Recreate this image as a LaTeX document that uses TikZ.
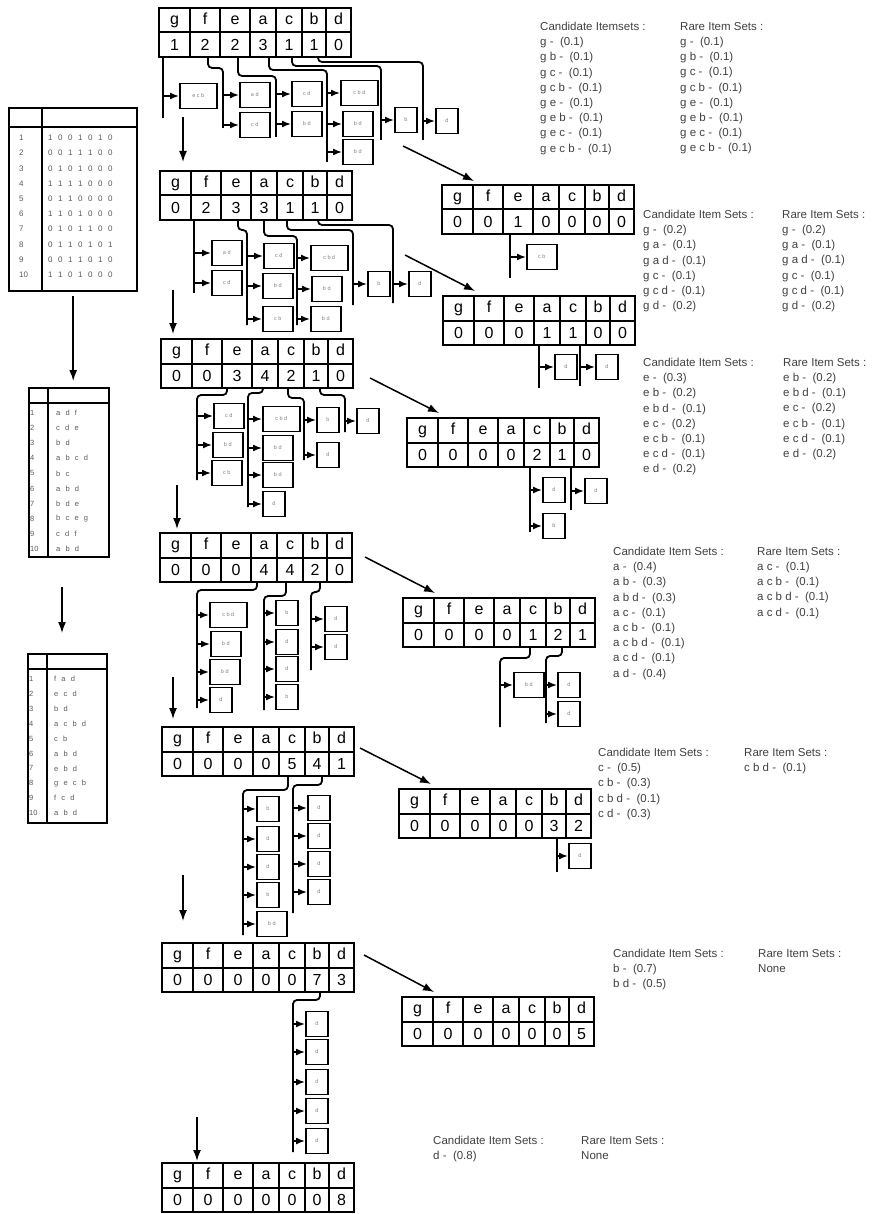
\documentclass[tikz,border=0pt]{standalone}
\usepackage{fontspec}
\setmainfont{Liberation Sans}
\newfontfamily\spacedfont[WordSpace=2.5]{Liberation Sans}
\usetikzlibrary{arrows.meta}

% counts of one itemset table
\def\setvals#1,#2,#3,#4,#5,#6,#7\relax{\def\vA{#1}\def\vB{#2}\def\vC{#3}\def\vD{#4}\def\vE{#5}\def\vF{#6}\def\vG{#7}}
\newcommand{\itemtable}[4]{% name, left, top, counts
  \setvals#4\relax
  \foreach \lt/\xc/\cwid/\cnt [count=\i] in {g/15.5/31/\vA,f/46/30/\vB,e/76/30/\vC,a/104/26/\vD,c/130/26/\vE,b/155/24/\vF,d/179.5/25/\vG}{
    \node[hcell,minimum width=\cwid pt] (#1h\i) at (#2+\xc,#3+12.25) {\lt};
    \node[vcell,minimum width=\cwid pt] (#1v\i) at (#2+\xc,#3+36.75) {\cnt};
  }%
}
\newcommand{\trunk}[4]{\draw[stem] ([xshift=#2pt]#1.south) -- ++(0,#3) coordinate (#4);}
\newcommand{\branch}[6]{\draw[stem] ([xshift=#2pt]#1.south) |- (#4,#3) -- (#4,#5) coordinate (#6);}
\newcommand{\leaf}[6][]{%
  \node[itm,#1,anchor=west] (#2) at (#4,#5) {#6};
  \draw[tip] (#3 |- #2) -- (#2);}

\begin{document}
\begin{tikzpicture}[x=1pt,y=-1pt,
  vcell/.style={draw, line width=2pt, minimum height=24.5pt, inner sep=0pt, font=\fontsize{16}{16}\selectfont},
  hcell/.style={vcell, text height=11.5pt, text depth=3.5pt},
  itm/.style={draw, line width=1.6pt, minimum height=25pt, minimum width=30pt, inner sep=0pt, text=gray, font=\fontsize{5.5}{6}\selectfont},
  one/.style={minimum width=22pt},
  three/.style={minimum width=37pt},
  stem/.style={line width=1.8pt, rounded corners=4pt},
  tip/.style={line width=1.5pt, -{Latex[length=9pt,width=7pt]}},
  down/.style={line width=1.5pt, -{Latex[length=11pt,width=8pt]}},
  tab/.style={draw, line width=2.4pt, anchor=north west, inner sep=0pt},
  tabline/.style={line width=2.4pt},
  idx/.style={anchor=west, inner sep=0pt, text=black!65, font=\fontsize{7.5}{8}\selectfont},
  bits/.style={anchor=west, inner sep=0pt, text=black!65, font=\fontsize{7.5}{8}\spacedfont},
  lst/.style={anchor=north west, align=left, inner sep=0pt, text=black!75, font=\fontsize{11.5}{15.2}\selectfont}
]
\useasboundingbox (0,0) rectangle (876,1214);

% transaction tables
\node[tab, minimum width=128pt, minimum height=183pt] (tab1) at (8,107) {};
\draw[tabline] (8,127) -- (136,127) (42,107) -- (42,290);
\foreach \b [count=\i] in {1 0 0 1 0 1 0, 0 0 1 1 1 0 0, 0 1 0 1 0 0 0, 1 1 1 1 0 0 0, 0 1 1 0 0 0 0,
  1 1 0 1 0 0 0, 0 1 0 1 1 0 0, 0 1 1 0 1 0 1, 0 0 1 1 0 1 0, 1 1 0 1 0 0 0}{
  \node[idx,font=\fontsize{8}{8}\selectfont] (tA-\i) at (19,{138+(\i-1)*15.2}) {\i};
  \node[bits,font=\fontsize{8}{8}\spacedfont] (rA-\i) at (48,{138+(\i-1)*15.2}) {\b};
}
\node[tab, minimum width=80pt, minimum height=169pt] (tab2) at (28,387) {};
\draw[tabline] (28,403) -- (108,403) (48,387) -- (48,556);
\foreach \b [count=\i] in {a d f, c d e, b d, a b c d, b c, a b d, b d e, b c e g, c d f, a b d}{
  \node[idx] (tB-\i) at (30,{413+(\i-1)*15.1}) {\i};
  \node[bits] (rB-\i) at (56,{413+(\i-1)*15.1}) {\b};
}
\node[tab, minimum width=79pt, minimum height=169pt] (tab3) at (27,653) {};
\draw[tabline] (27,669) -- (106,669) (47,653) -- (47,822);
\foreach \b [count=\i] in {f a d, e c d, b d, a c b d, c b, a b d, e b d, g e c b, f c d, a b d}{
  \node[idx] (tC-\i) at (29,{679+(\i-1)*14.9}) {\i};
  \node[bits] (rC-\i) at (54,{679+(\i-1)*14.9}) {\b};
}
\draw[down, shorten <=4pt, shorten >=6pt] (tab1.south) -- (tab1.south |- tab2.north);
\coordinate (l2) at (62,587);
\draw[down, shorten >=20pt] (l2) -- (l2 |- tab3.north);

% main column
\itemtable{t1}{159}{8}{1,2,2,3,1,1,0}
\itemtable{t2}{160}{171}{0,2,3,3,1,1,0}
\itemtable{t3}{161}{339}{0,0,3,4,2,1,0}
\itemtable{t4}{160}{533}{0,0,0,4,4,2,0}
\itemtable{t5}{162}{727}{0,0,0,0,5,4,1}
\itemtable{t6}{162}{943}{0,0,0,0,0,7,3}
\itemtable{t7}{162}{1163}{0,0,0,0,0,0,8}

% conditional tables
\itemtable{r1}{442}{185}{0,0,1,0,0,0,0}
\itemtable{r2}{443}{296}{0,0,0,1,1,0,0}
\itemtable{r3}{407}{418}{0,0,0,0,2,1,0}
\itemtable{r4}{403}{598}{0,0,0,0,1,2,1}
\itemtable{r5}{399}{789}{0,0,0,0,0,3,2}
\itemtable{r6}{402}{997}{0,0,0,0,0,0,5}

% step 1
\trunk{t1v1}{-11.5}{60}{s1g}
\branch{t1v2}{3}{68}{223}{128}{s1f}
\branch{t1v3}{3}{76}{276}{137}{s1e}
\branch{t1v4}{6}{70}{327}{162}{s1a}
\branch{t1v5}{3}{66}{381}{140}{s1c}
\branch{t1v6}{4}{62}{423}{140}{s1b}
\leaf[three]{l1a}{s1g}{179}{96}{e c b}
\leaf{l1b}{s1f}{239}{95}{a d}
\leaf{l1c}{s1f}{239}{125}{c d}
\leaf{l1d}{s1e}{291}{94}{c d}
\leaf{l1e}{s1e}{291}{124}{b d}
\leaf[three]{l1f}{s1a}{340}{93}{c b d}
\leaf{l1g}{s1a}{342}{124}{b d}
\leaf{l1h}{s1a}{342}{152}{b d}
\leaf[one]{l1i}{s1c}{394}{120}{b}
\leaf[one]{l1j}{s1b}{435}{121}{d}

% step 2
\trunk{t2v2}{-12}{72}{s2f}
\branch{t2v3}{2}{230}{247}{325}{s2e}
\branch{t2v4}{0}{236}{297}{325}{s2a}
\branch{t2v5}{-3}{230}{353}{305}{s2c}
\branch{t2v6}{3}{225}{393}{303}{s2b}
\leaf{l2a}{s2f}{211}{253}{a d}
\leaf{l2b}{s2f}{211}{283}{c d}
\leaf{l2c}{s2e}{263}{256}{c d}
\leaf{l2d}{s2e}{262}{286}{b d}
\leaf{l2e}{s2e}{262}{319}{c b}
\leaf[three]{l2f}{s2a}{310}{258}{c b d}
\leaf{l2g}{s2a}{311}{289}{b d}
\leaf{l2h}{s2a}{310}{319}{b d}
\leaf[one]{l2i}{s2c}{367}{284}{b}
\leaf[one]{l2j}{s2b}{408}{284}{d}

% step 3
\branch{t3v3}{-10}{395}{197}{480}{s3e}
\branch{t3v4}{-2}{393}{248}{507}{s3a}
\branch{t3v5}{-3}{398}{304}{460}{s3c}
\branch{t3v6}{4}{395}{345}{432}{s3b}
\leaf{l3a}{s3e}{213}{416}{c d}
\leaf{l3b}{s3e}{212}{445}{b d}
\leaf{l3c}{s3e}{211}{473}{c b}
\leaf[three]{l3d}{s3a}{262}{419}{c b d}
\leaf{l3e}{s3a}{262}{448}{b d}
\leaf{l3f}{s3a}{262}{475}{b d}
\leaf[one]{l3g}{s3a}{262}{504}{d}
\leaf[one]{l3h}{s3c}{316}{420}{b}
\leaf[one]{l3i}{s3c}{316}{455}{d}
\leaf[one]{l3j}{s3b}{356}{421}{d}

% step 4
\branch{t4v4}{-7}{590}{197}{708}{s4a}
\branch{t4v5}{-4}{596}{264}{710}{s4c}
\branch{t4v6}{5}{592}{311}{670}{s4b}
\leaf[three]{l4a}{s4a}{209}{615}{c b d}
\leaf{l4b}{s4a}{210}{644}{b d}
\leaf{l4c}{s4a}{209}{672}{b d}
\leaf[one]{l4d}{s4a}{209}{700}{d}
\leaf[one]{l4e}{s4c}{275}{613}{b}
\leaf[one]{l4f}{s4c}{275}{642}{d}
\leaf[one]{l4g}{s4c}{275}{669}{d}
\leaf[one]{l4h}{s4c}{275}{697}{b}
\leaf[one]{l4i}{s4b}{324}{619}{d}
\leaf[one]{l4j}{s4b}{324}{647}{d}

% step 5
\branch{t5v5}{-4}{790}{243}{935}{s5c}
\branch{t5v6}{5}{785}{293}{913}{s5b}
\leaf[one]{l5a}{s5c}{256}{809}{b}
\leaf[one]{l5b}{s5c}{256}{839}{d}
\leaf[one]{l5c}{s5c}{256}{867}{d}
\leaf[one]{l5d}{s5c}{256}{895}{b}
\leaf{l5e}{s5c}{256}{924}{b d}
\leaf[one]{l5f}{s5b}{307}{808}{d}
\leaf[one]{l5g}{s5b}{307}{836}{d}
\leaf[one]{l5h}{s5b}{307}{864}{d}
\leaf[one]{l5i}{s5b}{307}{892}{d}

% step 6
\branch{t6v6}{3}{1000}{293}{1152}{s6b}
\foreach \yy [count=\k] in {1024,1052,1082,1111,1141}{
  \leaf[one]{l6-\k}{s6b}{305}{\yy}{d}
}

% conditional branches
\trunk{r1v3}{-8}{43}{q1e}
\leaf{k1a}{q1e}{526}{257}{c b}
\trunk{r2v4}{-8}{42}{q2a}
\trunk{r2v5}{7}{40}{q2c}
\leaf[one]{k2a}{q2a}{554}{367}{d}
\leaf[one]{k2b}{q2c}{595}{367}{d}
\trunk{r3v5}{-7}{64}{q3c}
\trunk{r3v6}{9}{42}{q3b}
\leaf[one]{k3a}{q3c}{542}{490}{d}
\leaf[one]{k3b}{q3c}{542}{526}{b}
\leaf[one]{k3c}{q3b}{584}{491}{d}
\branch{r4v5}{-3}{658}{500}{727}{q4c}
\branch{r4v6}{4}{656}{546}{723}{q4b}
\leaf{k4a}{q4c}{513}{685}{b d}
\leaf[one]{k4b}{q4b}{557}{685}{d}
\leaf[one]{k4c}{q4b}{557}{714}{d}
\trunk{r5v6}{3}{33}{q5b}
\leaf[one]{k5a}{q5b}{568}{856}{d}

% arrows down the main column
\coordinate (m1) at (183,117);
\coordinate (m2) at (173,290);
\coordinate (m3) at (177,485);
\coordinate (m4) at (173,677);
\coordinate (m5) at (183,875);
\coordinate (m6) at (197,1117);
\draw[down, shorten >=8pt] (m1) -- (m1 |- t2h1.north);
\draw[down, shorten >=4pt] (m2) -- (m2 |- t3h1.north);
\draw[down, shorten >=3pt] (m3) -- (m3 |- t4h1.north);
\draw[down, shorten >=7pt] (m4) -- (m4 |- t5h1.north);
\draw[down, shorten >=21pt] (m5) -- (m5 |- t6h1.north);
\draw[down, shorten >=1pt] (m6) -- (m6 |- t7h1.north);

% arrows to the conditional tables
\coordinate (p1) at (403,146);
\coordinate (p2) at (405,255);
\coordinate (p3) at (370,378);
\coordinate (p4) at (365,557);
\coordinate (p5) at (360,748);
\coordinate (p6) at (364,955);
\draw[down] (p1) -- ([yshift=3pt]r1h1.north east);
\draw[down] (p2) -- ([yshift=4pt]r2h1.north east);
\draw[down] (p3) -- ([yshift=4pt]r3h1.north east);
\draw[down] (p4) -- ([yshift=4pt]r4h1.north east);
\draw[down] (p5) -- ([yshift=4pt]r5h1.north east);
\draw[down] (p6) -- ([yshift=4pt]r6h1.north east);

% itemset lists
\node[lst] (cand1) at (540,22) {Candidate Itemsets :\\g - \ (0.1)\\g b - \ (0.1)\\g c - \ (0.1)\\g c b - \ (0.1)\\g e - \ (0.1)\\g e b - \ (0.1)\\g e c - \ (0.1)\\g e c b - \ (0.1)};
\node[lst] (rare1) at (680,22) {Rare Item Sets :\\g - \ (0.1)\\g b - \ (0.1)\\g c - \ (0.1)\\g c b - \ (0.1)\\g e - \ (0.1)\\g e b - \ (0.1)\\g e c - \ (0.1)\\g e c b - \ (0.1)};
\node[lst] (cand2) at (643,210) {Candidate Item Sets :\\g - \ (0.2)\\g a - \ (0.1)\\g a d - \ (0.1)\\g c - \ (0.1)\\g c d - \ (0.1)\\g d - \ (0.2)};
\node[lst] (rare2) at (782,210) {Rare Item Sets :\\g - \ (0.2)\\g a - \ (0.1)\\g a d - \ (0.1)\\g c - \ (0.1)\\g c d - \ (0.1)\\g d - \ (0.2)};
\node[lst] (cand3) at (643,358) {Candidate Item Sets :\\e - \ (0.3)\\e b - \ (0.2)\\e b d - \ (0.1)\\e c - \ (0.2)\\e c b - \ (0.1)\\e c d - \ (0.1)\\e d - \ (0.2)};
\node[lst] (rare3) at (783,358) {Rare Item Sets :\\e b - \ (0.2)\\e b d - \ (0.1)\\e c - \ (0.2)\\e c b - \ (0.1)\\e c d - \ (0.1)\\e d - \ (0.2)};
\node[lst] (cand4) at (613,547) {Candidate Item Sets :\\a - \ (0.4)\\a b - \ (0.3)\\a b d - \ (0.3)\\a c - \ (0.1)\\a c b - \ (0.1)\\a c b d - \ (0.1)\\a c d - \ (0.1)\\a d - \ (0.4)};
\node[lst] (rare4) at (757,547) {Rare Item Sets :\\a c - \ (0.1)\\a c b - \ (0.1)\\a c b d - \ (0.1)\\a c d - \ (0.1)};
\node[lst] (cand5) at (598,748) {Candidate Item Sets :\\c - \ (0.5)\\c b - \ (0.3)\\c b d - \ (0.1)\\c d - \ (0.3)};
\node[lst] (rare5) at (744,748) {Rare Item Sets :\\c b d - \ (0.1)};
\node[lst] (cand6) at (613,949) {Candidate Item Sets :\\b - \ (0.7)\\b d - \ (0.5)};
\node[lst] (rare6) at (758,949) {Rare Item Sets :\\None};
\node[lst] (cand7) at (433,1136) {Candidate Item Sets :\\d - \ (0.8)};
\node[lst] (rare7) at (581,1136) {Rare Item Sets :\\None};
\end{tikzpicture}
\end{document}
